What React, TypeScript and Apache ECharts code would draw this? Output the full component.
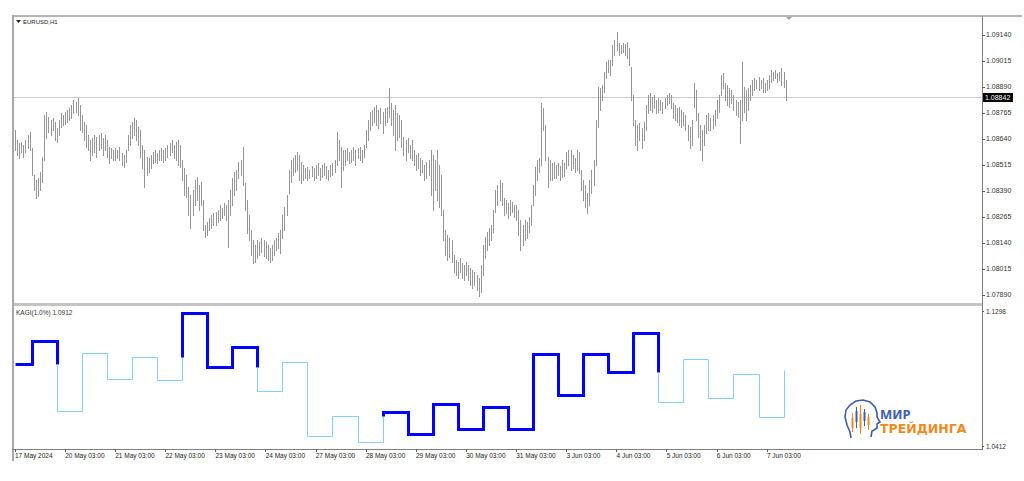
import React, { useEffect, useRef } from "react";
import * as echarts from "echarts";

const symbolTitle = "EURUSD,H1";
const kagiTitle = "KAGI(1.0%) 1.0912";

const dayLabels = [
  "17 May 2024", "20 May 03:00", "21 May 03:00", "22 May 03:00", "23 May 03:00", "24 May 03:00",
  "27 May 03:00", "28 May 03:00", "29 May 03:00", "30 May 03:00", "31 May 03:00",
  "3 Jun 03:00", "4 Jun 03:00", "5 Jun 03:00", "6 Jun 03:00", "7 Jun 03:00",
];

// hourly bar highs, one line per trading day (starting 03:00)
const barHigh = [
  1.08683,1.08635,1.08620,1.08625,1.08611,1.08635,1.08659,1.08673,1.08596,1.08466,1.08442,1.08452,1.08481,1.08553,1.08755,1.08769,1.08745,1.08731,1.08740,1.08721,1.08692,1.08731,1.08764,1.08755,
  1.08769,1.08779,1.08788,1.08803,1.08827,1.08817,1.08836,1.08803,1.08755,1.08721,1.08707,1.08659,1.08635,1.08644,1.08659,1.08649,1.08659,1.08668,1.08644,1.08659,1.08635,1.08601,1.08596,1.08587,
  1.08596,1.08587,1.08601,1.08572,1.08563,1.08587,1.08659,1.08707,1.08721,1.08740,1.08731,1.08697,1.08683,1.08611,1.08587,1.08553,1.08548,1.08563,1.08577,1.08587,1.08572,1.08587,1.08596,1.08587,
  1.08596,1.08611,1.08620,1.08635,1.08611,1.08625,1.08635,1.08611,1.08538,1.08500,1.08466,1.08409,1.08370,1.08394,1.08442,1.08457,1.08418,1.08433,1.08346,1.08226,1.08241,1.08260,1.08274,1.08284,
  1.08289,1.08298,1.08322,1.08308,1.08332,1.08322,1.08346,1.08394,1.08452,1.08481,1.08490,1.08529,1.08538,1.08601,1.08428,1.08346,1.08274,1.08202,1.08154,1.08130,1.08154,1.08145,1.08164,1.08154,
  1.08145,1.08130,1.08116,1.08130,1.08154,1.08164,1.08188,1.08202,1.08274,1.08313,1.08370,1.08490,1.08538,1.08548,1.08563,1.08577,1.08563,1.08529,1.08514,1.08500,1.08505,1.08490,1.08509,1.08500,
  1.08514,1.08524,1.08500,1.08514,1.08524,1.08509,1.08490,1.08514,1.08524,1.08538,1.08673,1.08635,1.08601,1.08587,1.08587,1.08596,1.08577,1.08587,1.08601,1.08587,1.08596,1.08601,1.08587,1.08611,
  1.08683,1.08731,1.08769,1.08779,1.08793,1.08803,1.08779,1.08788,1.08769,1.08788,1.08793,1.08884,1.08812,1.08779,1.08803,1.08764,1.08755,1.08731,1.08649,1.08635,1.08644,1.08611,1.08635,1.08587,
  1.08563,1.08572,1.08548,1.08538,1.08514,1.08529,1.08538,1.08587,1.08563,1.08538,1.08587,1.08514,1.08466,1.08298,1.08202,1.08178,1.08164,1.08154,1.08082,1.08057,1.08049,1.08068,1.08044,1.08034,
  1.08049,1.08034,1.08020,1.08009,1.08001,1.07986,1.07972,1.08034,1.08130,1.08169,1.08193,1.08212,1.08226,1.08298,1.08394,1.08418,1.08442,1.08428,1.08356,1.08346,1.08332,1.08346,1.08337,1.08322,
  1.08322,1.08298,1.08250,1.08226,1.08250,1.08241,1.08265,1.08322,1.08418,1.08505,1.08538,1.08548,1.08812,1.08788,1.08707,1.08553,1.08538,1.08524,1.08529,1.08514,1.08524,1.08509,1.08538,1.08524,
  1.08577,1.08587,1.08587,1.08563,1.08548,1.08587,1.08577,1.08490,1.08442,1.08418,1.08380,1.08442,1.08490,1.08538,1.08731,1.08889,1.08884,1.08899,1.08961,1.09010,1.09019,1.09019,1.09092,1.09116,
  1.09154,1.09101,1.09092,1.09101,1.09096,1.09106,1.09077,1.08985,1.08851,1.08731,1.08707,1.08716,1.08692,1.08721,1.08803,1.08851,1.08860,1.08841,1.08851,1.08827,1.08836,1.08827,1.08817,1.08836,
  1.08851,1.08860,1.08851,1.08812,1.08803,1.08788,1.08793,1.08779,1.08769,1.08755,1.08707,1.08697,1.08731,1.08908,1.08875,1.08764,1.08707,1.08683,1.08707,1.08755,1.08764,1.08740,1.08755,1.08779,
  1.08827,1.08851,1.08947,1.08957,1.08908,1.08899,1.08884,1.08875,1.08851,1.08827,1.08817,1.08827,1.09010,1.08889,1.08875,1.08884,1.08899,1.08923,1.08932,1.08923,1.08937,1.08923,1.08932,1.08908,
  1.08923,1.08947,1.08971,1.08961,1.08971,1.08957,1.08961,1.08981,1.08961,1.08923,
];

// hourly bar lows, same layout
const barLow = [
  1.08587,1.08563,1.08548,1.08577,1.08553,1.08577,1.08596,1.08587,1.08466,1.08394,1.08356,1.08365,1.08394,1.08433,1.08538,1.08644,1.08673,1.08659,1.08683,1.08635,1.08625,1.08659,1.08697,1.08707,
  1.08712,1.08721,1.08731,1.08740,1.08764,1.08769,1.08755,1.08683,1.08673,1.08635,1.08601,1.08587,1.08538,1.08563,1.08577,1.08553,1.08587,1.08596,1.08563,1.08587,1.08553,1.08524,1.08548,1.08538,
  1.08538,1.08548,1.08538,1.08514,1.08505,1.08529,1.08587,1.08611,1.08644,1.08659,1.08635,1.08611,1.08553,1.08500,1.08409,1.08466,1.08481,1.08500,1.08524,1.08529,1.08524,1.08538,1.08538,1.08529,
  1.08538,1.08553,1.08563,1.08577,1.08548,1.08538,1.08514,1.08505,1.08442,1.08370,1.08361,1.08274,1.08212,1.08274,1.08322,1.08346,1.08298,1.08322,1.08202,1.08169,1.08178,1.08202,1.08212,1.08226,
  1.08226,1.08241,1.08250,1.08260,1.08274,1.08250,1.08121,1.08274,1.08322,1.08370,1.08394,1.08452,1.08466,1.08418,1.08298,1.08188,1.08154,1.08082,1.08044,1.08049,1.08068,1.08082,1.08097,1.08077,
  1.08068,1.08057,1.08049,1.08057,1.08082,1.08106,1.08116,1.08092,1.08164,1.08202,1.08274,1.08380,1.08433,1.08466,1.08481,1.08490,1.08442,1.08428,1.08442,1.08452,1.08442,1.08452,1.08461,1.08442,
  1.08452,1.08466,1.08442,1.08457,1.08466,1.08452,1.08442,1.08461,1.08466,1.08481,1.08514,1.08538,1.08409,1.08490,1.08514,1.08538,1.08524,1.08529,1.08538,1.08514,1.08548,1.08538,1.08529,1.08553,
  1.08601,1.08635,1.08683,1.08707,1.08721,1.08707,1.08692,1.08716,1.08668,1.08707,1.08721,1.08745,1.08707,1.08659,1.08587,1.08635,1.08649,1.08601,1.08563,1.08538,1.08577,1.08548,1.08538,1.08514,
  1.08490,1.08500,1.08466,1.08481,1.08442,1.08452,1.08466,1.08370,1.08298,1.08394,1.08346,1.08313,1.08274,1.08154,1.08082,1.08057,1.08073,1.08049,1.08001,1.07986,1.07972,1.08001,1.07972,1.07961,
  1.07986,1.07961,1.07938,1.07924,1.07938,1.07913,1.07885,1.07905,1.07986,1.08068,1.08106,1.08130,1.08154,1.08193,1.08289,1.08322,1.08346,1.08322,1.08274,1.08284,1.08260,1.08274,1.08289,1.08265,
  1.08250,1.08178,1.08106,1.08130,1.08154,1.08164,1.08193,1.08226,1.08322,1.08370,1.08442,1.08481,1.08514,1.08683,1.08538,1.08409,1.08442,1.08442,1.08452,1.08452,1.08466,1.08442,1.08457,1.08461,
  1.08500,1.08514,1.08490,1.08500,1.08481,1.08490,1.08476,1.08394,1.08346,1.08313,1.08284,1.08322,1.08380,1.08418,1.08514,1.08697,1.08779,1.08827,1.08865,1.08932,1.08961,1.08947,1.08995,1.09044,
  1.09068,1.09044,1.09053,1.09058,1.09044,1.09029,1.08995,1.08827,1.08707,1.08611,1.08587,1.08635,1.08596,1.08635,1.08683,1.08764,1.08779,1.08769,1.08788,1.08764,1.08769,1.08779,1.08764,1.08788,
  1.08803,1.08812,1.08788,1.08740,1.08731,1.08721,1.08707,1.08697,1.08707,1.08683,1.08635,1.08596,1.08611,1.08793,1.08731,1.08649,1.08587,1.08538,1.08611,1.08668,1.08683,1.08683,1.08692,1.08707,
  1.08740,1.08769,1.08851,1.08884,1.08827,1.08803,1.08793,1.08812,1.08779,1.08755,1.08745,1.08620,1.08731,1.08769,1.08731,1.08779,1.08827,1.08851,1.08875,1.08884,1.08875,1.08884,1.08865,1.08865,
  1.08875,1.08884,1.08913,1.08923,1.08932,1.08913,1.08923,1.08899,1.08889,1.08827,
];

const priceTicks = [1.0789, 1.08015, 1.0814, 1.08265, 1.0839, 1.08515, 1.0864, 1.08765, 1.0889, 1.09015, 1.0914];
const priceRange = [1.07851, 1.09226];
const lastPrice = 1.08842;

// Kagi line levels and the bars where the line turns
const kagiLevels = [
  1.0950, 1.1101, 1.0642, 1.1022, 1.0852, 1.0996, 1.0845, 1.1285, 1.0930, 1.1062, 1.0773,
  1.0963, 1.0478, 1.0609, 1.0438, 1.0635, 1.0491, 1.0688, 1.0524, 1.0668, 1.0524, 1.1016,
  1.0747, 1.1016, 1.0898, 1.1153, 1.0701, 1.0983, 1.0727, 1.0884, 1.0602, 1.0912,
];
const kagiTurns = [8, 20, 32, 44, 56, 68, 80, 92, 104, 116, 128, 140, 152, 164, 176, 188, 200, 212, 224, 236, 248, 260, 272, 284, 296, 308, 320, 332, 344, 356, 368];
const kagiScale = [1.0412, 1.1298];

const slotCount = 464; // bar slots across the chart width, incl. empty right side
const barsPerDay = 24;

type Piece = { pts: number[][]; thick: boolean };

function buildKagi(): Piece[] {
  const pieces: Piece[] = [];
  let thick = true;
  let shoulder: number | null = null;
  let waist: number | null = null;
  let cur: Piece = { pts: [[0, kagiLevels[0]]], thick };
  const push = (p: number[], t: boolean) => {
    if (t !== cur.thick) {
      pieces.push(cur);
      const last = cur.pts[cur.pts.length - 1];
      cur = { pts: [last, p], thick: t };
    } else cur.pts.push(p);
  };
  for (let k = 0; k < kagiTurns.length; k++) {
    const x = kagiTurns[k];
    const from = kagiLevels[k];
    const to = kagiLevels[k + 1];
    const open = k === kagiTurns.length - 1; // the current, still-forming move keeps its colour
    push([x, from], thick);
    if (to > from) {
      if (!open && !thick && shoulder !== null && to > shoulder) {
        push([x, shoulder], false);
        thick = true;
      }
      push([x, to], thick);
      shoulder = to;
      waist = from;
    } else {
      if (!open && thick && waist !== null && to < waist) {
        push([x, waist], true);
        thick = false;
      }
      push([x, to], thick);
      waist = to;
      shoulder = from;
    }
  }
  pieces.push(cur);
  return pieces;
}

const FONT = "Liberation Sans";

export default function App() {
  const ref = useRef<HTMLDivElement>(null);
  useEffect(() => {
    if (!ref.current) return;
    const chart = echarts.init(ref.current, null, { renderer: "svg" });
    const slots = Array.from({ length: slotCount }, (_, i) => String(i));
    const kagiPieces = buildKagi();
    const showDay = (i: number) => i % barsPerDay === 0 && i / barsPerDay < dayLabels.length;

    const option: any = {
      animation: false,
      backgroundColor: "#ffffff",
      textStyle: { fontFamily: FONT },
      grid: [
        { left: 15, right: 42, top: 17, height: 286, outerBoundsMode: "none" },
        { left: 15, right: 42, top: 311, height: 135, outerBoundsMode: "none" },
      ],
      xAxis: [
        { type: "category", gridIndex: 0, data: slots, boundaryGap: false, show: false },
        {
          type: "category",
          gridIndex: 1,
          data: slots,
          boundaryGap: false,
          offset: 3,
          axisLine: { show: false },
          axisTick: { show: true, interval: showDay, length: 3, lineStyle: { color: "#606060" } },
          axisLabel: {
            show: true,
            interval: showDay,
            formatter: (_v: string, i: number) => dayLabels[i / barsPerDay] ?? "",
            align: "left",
            margin: 3,
            fontSize: 6.5,
            color: "#222",
            fontFamily: FONT,
          },
          splitLine: { show: false },
        },
      ],
      yAxis: [
        {
          type: "value",
          gridIndex: 0,
          position: "right",
          min: priceRange[0],
          max: priceRange[1],
          splitLine: { show: false },
          axisLine: { show: false },
          axisTick: { show: true, customValues: priceTicks, length: 3, lineStyle: { color: "#606060" } },
          axisLabel: {
            customValues: priceTicks,
            formatter: (v: number) => v.toFixed(5),
            fontSize: 7,
            color: "#333",
            margin: 4,
            fontFamily: FONT,
          },
        },
        {
          type: "value",
          gridIndex: 1,
          position: "right",
          min: kagiScale[0],
          max: kagiScale[1],
          splitLine: { show: false },
          axisLine: { show: false },
          axisTick: { show: true, customValues: kagiScale, length: 2, lineStyle: { color: "#606060" } },
          axisLabel: {
            customValues: kagiScale,
            formatter: (v: number) => v.toFixed(4),
            fontSize: 6.5,
            color: "#333",
            margin: 4,
            fontFamily: FONT,
          },
        },
      ],
      series: [
        {
          type: "custom",
          xAxisIndex: 0,
          yAxisIndex: 0,
          silent: true,
          data: barHigh.map((h, i) => [i, h, barLow[i]]),
          encode: { x: 0, y: [1, 2] },
          renderItem: (_p: any, api: any) => {
            const x = api.value(0);
            const top = api.coord([x, api.value(1)]);
            const bot = api.coord([x, api.value(2)]);
            const px = Math.round(top[0]) + 0.5;
            return {
              type: "line",
              shape: { x1: px, y1: Math.round(top[1]), x2: px, y2: Math.round(bot[1]) + 1 },
              style: { stroke: "#969696", lineWidth: 1 },
            };
          },
        },
        {
          type: "custom",
          xAxisIndex: 1,
          yAxisIndex: 1,
          silent: true,
          data: kagiPieces.map((p) => [p.pts[0][0], p.pts[0][1]]),
          encode: { x: 0, y: 1 },
          renderItem: (params: any, api: any) => {
            const piece = kagiPieces[params.dataIndex];
            const pts = piece.pts.map((pt) => {
              const c = api.coord(pt);
              return [Math.round(c[0]) + 0.5, Math.round(c[1]) + 0.5];
            });
            return {
              type: "polyline",
              shape: { points: pts },
              style: {
                stroke: piece.thick ? "#0000ff" : "#87cefa",
                lineWidth: piece.thick ? 3 : 1,
                fill: null,
              },
            };
          },
        },
      ],
    };
    chart.setOption(option);

    const yLast = Math.round(chart.convertToPixel({ yAxisIndex: 0 } as any, lastPrice) as any);
    const blue = "#3f5ea8";
    const orange = "#f08a1c";
    const candles = [
      { x: 852, w1: 413, w2: 432, b1: 418, b2: 428, c: orange },
      { x: 856, w1: 407, w2: 428, b1: 411, b2: 422, c: blue },
      { x: 860, w1: 405, w2: 434, b1: 414, b2: 428, c: orange },
      { x: 864, w1: 409, w2: 426, b1: 412, b2: 421, c: blue },
      { x: 868, w1: 414, w2: 430, b1: 417, b2: 425, c: orange },
    ];
    const logoParts: any[] = [
      {
        type: "polyline",
        shape: {
          points: [
            [851, 438], [850, 432], [847, 425], [845, 417], [846, 410], [850, 405], [856, 401], [863, 400],
            [870, 402], [875, 407], [877, 413], [877, 417], [880, 422], [877, 424], [877, 428], [874, 430],
            [872, 431], [871, 437],
          ],
        },
        style: { stroke: blue, lineWidth: 1.6, fill: null },
      },
    ];
    candles.forEach((c) => {
      logoParts.push({ type: "line", shape: { x1: c.x + 0.5, y1: c.w1, x2: c.x + 0.5, y2: c.w2 }, style: { stroke: c.c, lineWidth: 1 } });
      logoParts.push({ type: "rect", shape: { x: c.x - 0.5, y: c.b1, width: 2, height: c.b2 - c.b1 }, style: { fill: c.c } });
    });
    logoParts.push({
      type: "text",
      x: 880,
      y: 414,
      style: { text: "МИР", fill: blue, font: 'bold 13px "Noto Sans"', verticalAlign: "middle" },
    });
    logoParts.push({
      type: "text",
      x: 880,
      y: 428.5,
      style: { text: "ТРЕЙДИНГА", fill: orange, font: 'bold 12.5px "DejaVu Sans"', verticalAlign: "middle" },
    });

    chart.setOption({
      graphic: [
        { type: "rect", shape: { x: 12, y: 15, width: 1010, height: 2 }, style: { fill: "#b4b4b4" }, silent: true },
        { type: "rect", shape: { x: 12, y: 15, width: 2, height: 446 }, style: { fill: "#a8a8a8" }, silent: true },
        { type: "line", shape: { x1: 982.5, y1: 16, x2: 982.5, y2: 450 }, style: { stroke: "#808080", lineWidth: 1 }, silent: true },
        { type: "rect", shape: { x: 14, y: 303, width: 968, height: 3 }, style: { fill: "#c4c4c4" }, silent: true },
        { type: "line", shape: { x1: 12, y1: 449.5, x2: 982, y2: 449.5 }, style: { stroke: "#808080", lineWidth: 1 }, silent: true },
        { type: "line", shape: { x1: 14, y1: yLast + 0.5, x2: 982, y2: yLast + 0.5 }, style: { stroke: "#cccccc", lineWidth: 1 }, silent: true },
        { type: "rect", shape: { x: 983, y: yLast - 4, width: 30, height: 9 }, style: { fill: "#000" }, silent: true },
        {
          type: "text",
          x: 985,
          y: yLast + 0.5,
          style: { text: lastPrice.toFixed(5), fill: "#fff", font: `7px "${FONT}"`, verticalAlign: "middle" },
          silent: true,
        },
        { type: "polygon", shape: { points: [[16, 20], [21, 20], [18.5, 23]] }, style: { fill: "#222" }, silent: true },
        {
          type: "text",
          x: 23,
          y: 22,
          style: { text: symbolTitle, fill: "#222", font: `6px "${FONT}"`, verticalAlign: "middle" },
          silent: true,
        },
        {
          type: "text",
          x: 16,
          y: 312,
          style: { text: kagiTitle, fill: "#333", font: `6.5px "${FONT}"`, verticalAlign: "middle" },
          silent: true,
        },
        { type: "polygon", shape: { points: [[786, 17], [792, 17], [789, 20]] }, style: { fill: "#a0a0a0" }, silent: true },
        { type: "group", children: logoParts, silent: true },
      ],
    });

    return () => chart.dispose();
  }, []);
  return <div ref={ref} style={{ position: "fixed", left: 0, top: 0, width: 1024, height: 481, background: "#fff" }} />;
}
